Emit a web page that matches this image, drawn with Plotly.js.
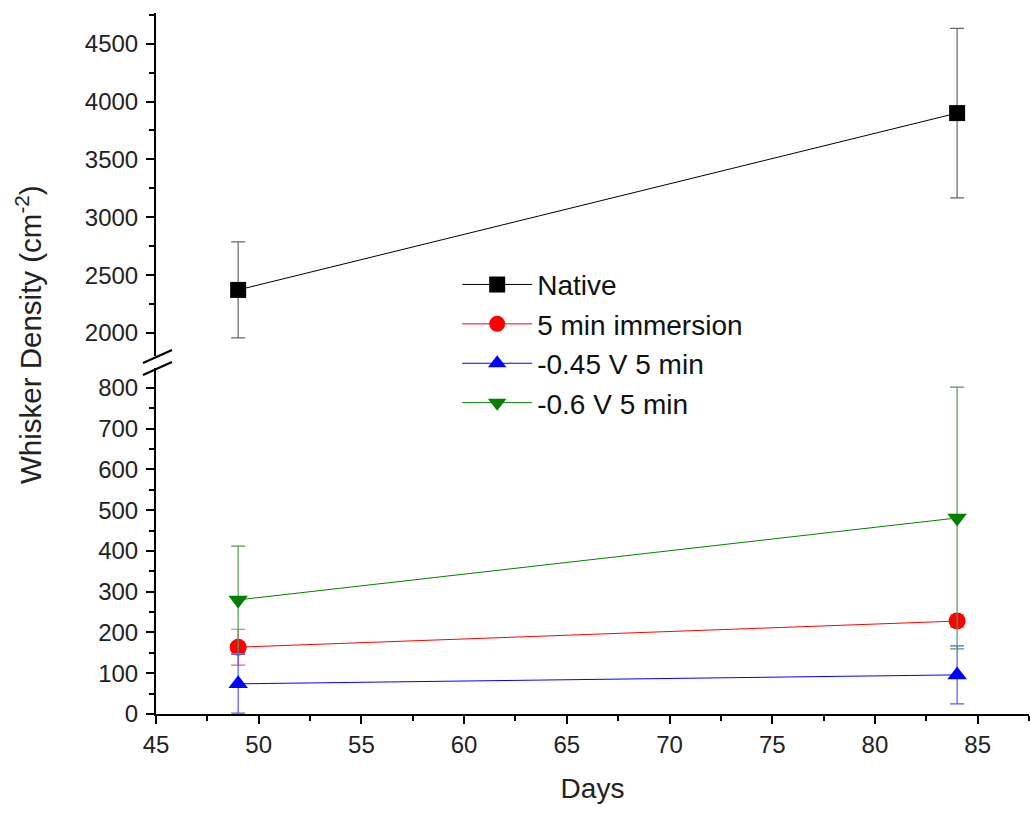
<!DOCTYPE html>
<html>
<head>
<meta charset="utf-8">
<script src="https://cdn.plot.ly/plotly-3.0.1.min.js"></script>
<style>html,body{margin:0;padding:0;background:#fff;}</style>
</head>
<body>
<div id="chart" style="width:1030px;height:817px;"></div>
<script>
const days = [49, 84];
const seriesNames = ["Native", "5 min immersion", "-0.45 V 5 min", "-0.6 V 5 min"];
const nativeVals = [2372, 3900];
const nativeErr = [415, 733];
const immersionVals = [164, 228];
const immersionErr = [44, 15];
const v045Vals = [74, 96];
const v045Err = [72, 71];
const v06Vals = [280, 481];
const v06Err = [132, 321];
const xTicks = [45, 50, 55, 60, 65, 70, 75, 80, 85];
const lowerTicks = [0, 100, 200, 300, 400, 500, 600, 700, 800];
const upperTicks = [2000, 2500, 3000, 3500, 4000, 4500];

const FONT = "Liberation Sans, Arial, sans-serif";

function mk(name, y, err, color, errColor, symbol, size, yaxis) {
  return {
    type: "scatter", mode: "lines+markers", name: name,
    x: days, y: y, yaxis: yaxis, xaxis: "x",
    line: {color: color, width: 1},
    marker: {color: color, symbol: symbol, size: size, line: {width: 0}},
    error_y: {type: "data", array: err, visible: true, color: errColor, thickness: 1.2, width: 7},
    cliponaxis: false
  };
}

const traces = [
  mk(seriesNames[0], nativeVals, nativeErr, "#000000", "#666666", "square", 16, "y2"),
  mk(seriesNames[1], immersionVals, immersionErr, "#ff0000", "#ff5555", "circle", 17, "y"),
  mk(seriesNames[2], v045Vals, v045Err, "#0000ff", "#5555ff", "triangle-up", 17, "y"),
  mk(seriesNames[3], v06Vals, v06Err, "#008000", "#559955", "triangle-down", 17, "y")
];

const axisCommon = {
  showline: true, linecolor: "#000", linewidth: 2,
  ticks: "outside", ticklen: 8, tickwidth: 2, tickcolor: "#000",
  showgrid: false, zeroline: false,
  tickfont: {family: FONT, size: 24, color: "#222"},
  minor: {ticks: "outside", ticklen: 5, tickwidth: 2, tickcolor: "#000", showgrid: false}
};

const layout = {
  width: 1030, height: 817,
  margin: {l: 156, r: 1, t: 13, b: 103},
  paper_bgcolor: "#fff", plot_bgcolor: "#fff",
  font: {family: FONT, color: "#222"},
  showlegend: true,
  legend: {
    x: 0.345, y: 0.648, xanchor: "left", yanchor: "top",
    font: {family: FONT, size: 28, color: "#111"},
    bgcolor: "rgba(0,0,0,0)", itemwidth: 70, tracegroupgap: 0
  },
  xaxis: Object.assign({}, axisCommon, {
    range: [45, 87.5], tickvals: xTicks, ticktext: xTicks.map(String),
    anchor: "y", domain: [0, 1],
    minor: {ticks: "outside", ticklen: 5, tickwidth: 2, tickcolor: "#000", dtick: 2.5, tick0: 45},
    title: {text: "Days", font: {family: FONT, size: 28, color: "#222"}, standoff: 22}
  }),
  yaxis: Object.assign({}, axisCommon, {
    range: [0, 849], domain: [0, 0.4936], anchor: "x",
    tickvals: lowerTicks, ticktext: lowerTicks.map(String),
    minor: {ticks: "outside", ticklen: 5, tickwidth: 2, tickcolor: "#000", dtick: 50, tick0: 0},
    ticklabelstandoff: 3
  }),
  yaxis2: Object.assign({}, axisCommon, {
    range: [1801, 4765], domain: [0.5107, 1], anchor: "x",
    tickvals: upperTicks, ticktext: upperTicks.map(String),
    minor: {ticks: "outside", ticklen: 5, tickwidth: 2, tickcolor: "#000", dtick: 250, tick0: 0},
    ticklabelstandoff: 3
  }),
  annotations: [{
    text: "Whisker Density (cm<sup>-2</sup>)", textangle: -90,
    xref: "paper", yref: "paper", x: (28 - 156) / 873, y: (714 - 335) / 701,
    xanchor: "center", yanchor: "middle", showarrow: false,
    font: {family: FONT, size: 29.5, color: "#222"}
  }],
  shapes: [
    {type: "line", xref: "paper", yref: "paper",
     x0: (143 - 156) / 873, y0: (714 - 363) / 701, x1: (172 - 156) / 873, y1: (714 - 350) / 701,
     line: {color: "#000", width: 2}},
    {type: "line", xref: "paper", yref: "paper",
     x0: (143 - 156) / 873, y0: (714 - 375) / 701, x1: (172 - 156) / 873, y1: (714 - 362) / 701,
     line: {color: "#000", width: 2}}
  ]
};

Plotly.newPlot("chart", traces, layout, {displayModeBar: false, staticPlot: true});
</script>
</body>
</html>
